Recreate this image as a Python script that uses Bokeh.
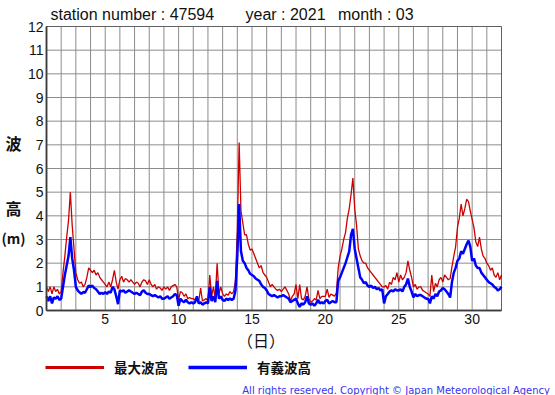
from bokeh.plotting import figure
from bokeh.models import (Legend, LegendItem, FixedTicker, Range1d, Label,
                          LinearAxis, BoxAnnotation)
from bokeh.embed import file_html
from bokeh.resources import INLINE

# ---------------- data (3-hourly) ----------------
days = list(range(1, 32))
hours = [0, 3, 6, 9, 12, 15, 18, 21]

max_wave_by_day = [
    [1.0, 0.8, 1.0, 0.7, 1.0, 0.8, 0.9, 0.7],    # 1
    [0.8, 1.6, 2.3, 3.1, 3.8, 5.0, 3.6, 2.6],    # 2
    [1.6, 1.3, 1.15, 1.2, 1.0, 1.1, 1.4, 1.8],   # 3
    [1.7, 1.6, 1.7, 1.5, 1.6, 1.4, 1.3, 1.2],    # 4
    [1.1, 1.0, 1.2, 1.0, 1.3, 1.7, 1.2, 0.9],    # 5
    [1.3, 1.45, 1.2, 1.35, 1.3, 1.2, 1.3, 1.2],  # 6
    [1.1, 1.2, 1.15, 1.0, 1.2, 1.3, 1.25, 1.1],  # 7
    [1.3, 1.1, 1.0, 1.1, 0.9, 1.0, 0.95, 0.85],  # 8
    [1.0, 0.9, 1.0, 0.85, 1.0, 1.05, 1.1, 1.0],  # 9
    [0.45, 0.8, 0.75, 0.6, 0.7, 0.5, 0.55, 0.5], # 10
    [0.5, 0.45, 0.5, 0.4, 0.95, 0.4, 0.45, 0.5], # 11
    [0.4, 1.5, 0.6, 1.0, 0.5, 2.0, 0.7, 1.0],    # 12
    [0.7, 0.6, 0.7, 0.65, 0.8, 0.7, 0.8, 1.25],  # 13
    [3.4, 7.1, 4.2, 3.7, 3.2, 3.2, 2.8, 2.55],   # 14
    [2.6, 2.4, 2.2, 2.0, 1.8, 1.9, 1.6, 1.5],    # 15
    [1.4, 1.2, 1.0, 1.1, 1.0, 0.9, 0.85, 0.9],   # 16
    [0.8, 0.9, 1.0, 0.85, 0.7, 0.4, 0.6, 0.7],   # 17
    [1.1, 0.5, 1.1, 0.5, 0.45, 0.6, 1.0, 0.5],   # 18
    [0.35, 0.4, 0.5, 0.45, 0.85, 0.5, 0.6, 0.6], # 19
    [0.6, 0.9, 0.55, 0.7, 0.65, 0.6, 0.75, 1.8], # 20
    [2.3, 2.6, 3.0, 3.3, 3.9, 4.3, 4.9, 5.6],    # 21
    [4.3, 3.6, 2.6, 2.3, 2.1, 2.0, 2.0, 1.8],    # 22
    [1.7, 1.6, 1.5, 1.4, 1.3, 1.2, 1.1, 1.0],    # 23
    [1.0, 1.05, 0.9, 1.2, 1.1, 1.4, 1.3, 1.6],   # 24
    [1.2, 1.5, 1.3, 1.4, 1.6, 2.1, 1.7, 1.4],    # 25
    [1.0, 1.1, 0.9, 1.0, 1.0, 0.85, 0.8, 0.75],  # 26
    [0.7, 0.6, 1.5, 0.8, 1.15, 1.0, 1.3, 1.4],   # 27
    [1.2, 1.5, 1.4, 1.3, 1.35, 1.85, 2.3, 2.7],  # 28
    [3.5, 3.9, 4.5, 4.0, 4.3, 4.7, 4.6, 4.2],    # 29
    [3.85, 3.5, 2.9, 2.7, 3.1, 2.6, 2.3, 2.2],   # 30
    [2.0, 1.9, 1.7, 1.8, 1.5, 1.4, 1.6, 1.3],    # 31
]
max_wave_end = 1.5

sig_wave_by_day = [
    [0.6, 0.4, 0.6, 0.3, 0.55, 0.5, 0.6, 0.45],   # 1
    [0.5, 1.0, 1.5, 1.9, 2.3, 3.1, 2.2, 1.7],     # 2
    [1.0, 0.85, 0.77, 0.7, 0.78, 0.75, 0.9, 1.05],# 3
    [1.0, 1.05, 0.95, 0.9, 0.8, 0.7, 0.75, 0.7],  # 4
    [0.77, 0.7, 0.8, 0.75, 1.0, 0.9, 0.6, 0.27],  # 5
    [0.85, 0.8, 0.85, 0.75, 0.8, 0.85, 0.8, 0.75],# 6
    [0.7, 0.75, 0.7, 0.65, 0.8, 0.85, 0.75, 0.7], # 7
    [0.7, 0.65, 0.6, 0.65, 0.6, 0.55, 0.6, 0.5],  # 8
    [0.5, 0.55, 0.6, 0.5, 0.55, 0.6, 0.7, 0.65],  # 9
    [0.2, 0.5, 0.4, 0.35, 0.45, 0.35, 0.3, 0.35], # 10
    [0.3, 0.35, 0.6, 0.3, 0.35, 0.25, 0.3, 0.35], # 11
    [0.3, 1.0, 0.4, 0.6, 0.35, 1.25, 0.5, 0.6],   # 12
    [0.45, 0.4, 0.5, 0.45, 0.5, 0.45, 0.5, 0.85], # 13
    [2.3, 4.5, 2.5, 2.1, 2.0, 1.8, 1.7, 1.55],    # 14
    [1.5, 1.45, 1.35, 1.3, 1.25, 1.1, 1.0, 0.95], # 15
    [0.85, 0.7, 0.65, 0.6, 0.65, 0.6, 0.55, 0.6], # 16
    [0.6, 0.65, 0.6, 0.55, 0.5, 0.35, 0.4, 0.45], # 17
    [0.5, 0.3, 0.15, 0.3, 0.25, 0.35, 0.6, 0.3],  # 18
    [0.25, 0.3, 0.2, 0.3, 0.45, 0.3, 0.35, 0.3],  # 19
    [0.4, 0.45, 0.3, 0.35, 0.4, 0.35, 0.35, 1.25],# 20
    [1.4, 1.6, 1.8, 2.0, 2.25, 2.5, 3.2, 3.45],   # 21
    [2.6, 2.2, 1.8, 1.4, 1.3, 1.15, 1.2, 1.05],   # 22
    [1.0, 1.05, 0.95, 1.0, 0.9, 0.95, 0.85, 0.9], # 23
    [0.3, 0.6, 0.7, 0.8, 0.85, 0.8, 0.9, 0.85],   # 24
    [0.85, 0.9, 0.8, 1.0, 1.1, 1.35, 1.0, 0.8],   # 25
    [0.55, 0.7, 0.6, 0.65, 0.65, 0.6, 0.55, 0.5], # 26
    [0.5, 0.3, 0.6, 0.5, 0.7, 0.6, 0.8, 0.85],    # 27
    [0.95, 0.9, 0.8, 0.7, 0.55, 1.2, 1.6, 1.8],   # 28
    [2.1, 2.2, 2.5, 2.4, 2.6, 2.8, 2.95, 2.7],    # 29
    [2.1, 2.2, 1.9, 1.8, 1.8, 1.6, 1.5, 1.4],     # 30
    [1.3, 1.2, 1.15, 1.1, 1.0, 0.95, 0.85, 0.9],  # 31
]
sig_wave_end = 1.0

x_start, x_end = 1, 32
y_start, y_end = 0, 12
x_ticks = [5, 10, 15, 20, 25, 30]
y_ticks = list(range(0, 13))
day_grid = list(range(1, 33))

series_labels = ["最大波高", "有義波高"]
title_parts = ["station number : 47594", "year : 2021", "month : 03"]
y_label_parts = ["波", "高", "(m)"]
x_label = "（日）"
copyright_text = "All rights reserved. Copyright © Japan Meteorological Agency"

# ---------------- build series ----------------
t = [d + h / 24 for d in days for h in hours] + [32]
max_wave = [v for row in max_wave_by_day for v in row] + [max_wave_end]
sig_wave = [v for row in sig_wave_by_day for v in row] + [sig_wave_end]

RED = "#cc0000"
BLUE = "#0000ff"
GRID = "#8c8c8c"
LAT = "Liberation Sans"
CJK = "Noto Sans CJK JP"

# canvas and plot-area geometry (pixels)
W, H = 555, 395
PL, PT, PR, PB = 46, 26, 501, 310
kx = (PR - PL) / (x_end - x_start)
ky = (PB - PT) / (y_end - y_start)
xr = Range1d(x_start - PL / kx, x_end + (W - PR) / kx)
yr = Range1d(y_start - (H - PB) / ky, y_end + PT / ky)

p = figure(width=W, height=H, output_backend="svg", toolbar_location=None,
           x_range=xr, y_range=yr, x_axis_location=None, y_axis_location=None,
           min_border=0)
p.outline_line_color = None
p.background_fill_color = "white"
p.border_fill_color = "white"
p.grid.visible = False

# grid lines inside the plot area
p.segment(x0=day_grid, y0=[y_start] * len(day_grid), x1=day_grid,
          y1=[y_end] * len(day_grid), line_color=GRID, line_width=1)
p.segment(x0=[x_start] * len(y_ticks), y0=y_ticks, x1=[x_end] * len(y_ticks),
          y1=y_ticks, line_color=GRID, line_width=1)

# data
p.line(t, max_wave, line_color=RED, line_width=1.3)
p.line(t, sig_wave, line_color=BLUE, line_width=2.5)

# plot-area outline
p.add_layout(BoxAnnotation(left=x_start, right=x_end, bottom=y_start, top=y_end,
                           fill_alpha=0, line_color="black", line_width=1))

# axes fixed to the plot-area edges
xaxis = LinearAxis(fixed_location=y_start, bounds=(x_start, x_end),
                   ticker=FixedTicker(ticks=x_ticks))
yaxis = LinearAxis(fixed_location=x_start, bounds=(y_start, y_end),
                   ticker=FixedTicker(ticks=y_ticks))
for ax in (xaxis, yaxis):
    ax.axis_line_color = "#555555"
    ax.axis_line_width = 2
    ax.major_tick_line_color = None
    ax.minor_tick_line_color = None
    ax.major_tick_out = 0
    ax.major_tick_in = 0
    ax.major_label_text_font = LAT
    ax.major_label_text_font_size = "14px"
    ax.major_label_text_color = "#111111"
    ax.major_label_standoff = 3
p.add_layout(xaxis, "below")
p.add_layout(yaxis, "left")

def add_text(cx, cy, text, size, font, style="normal", align="left", color="#111111"):
    p.add_layout(Label(x=cx, y=H - cy, x_units="screen", y_units="screen",
                       text=text, text_font=font, text_font_size=size,
                       text_font_style=style, text_align=align,
                       text_baseline="middle", text_color=color))

# title
add_text(50, 14, title_parts[0], "16px", LAT)
add_text(245, 14, title_parts[1], "16px", LAT)
add_text(337.5, 14, title_parts[2], "16px", LAT)

# y axis label
add_text(13, 142, y_label_parts[0], "16px", CJK, "bold", "center")
add_text(13, 207, y_label_parts[1], "16px", CJK, "bold", "center")
add_text(13, 237, y_label_parts[2], "14px", CJK, "bold", "center")

# x axis label
add_text(260.5, 339.5, x_label, "16px", CJK, "normal", "center")

# legend (sample renderers hold one undrawable point so the key glyph is painted)
nan = float("nan")
r_leg = p.line([nan], [nan], line_color=RED, line_width=3)
b_leg = p.line([nan], [nan], line_color=BLUE, line_width=3.5)
legend = Legend(items=[LegendItem(label=series_labels[0], renderers=[r_leg]),
                       LegendItem(label=series_labels[1], renderers=[b_leg])],
                orientation="horizontal", location=(45, H - 376.7),
                glyph_width=59, glyph_height=20, label_standoff=10, spacing=20,
                padding=0, margin=0, border_line_color=None,
                background_fill_alpha=0, label_text_font=CJK,
                label_text_font_size="13.5px", label_text_font_style="bold",
                label_text_color="#111111")
p.add_layout(legend)

# copyright
add_text(549.5, 389.5, copyright_text, "10px", "DejaVu Sans", "normal", "right", "#3535ee")

open("out.html", "w").write(file_html(p, INLINE))
